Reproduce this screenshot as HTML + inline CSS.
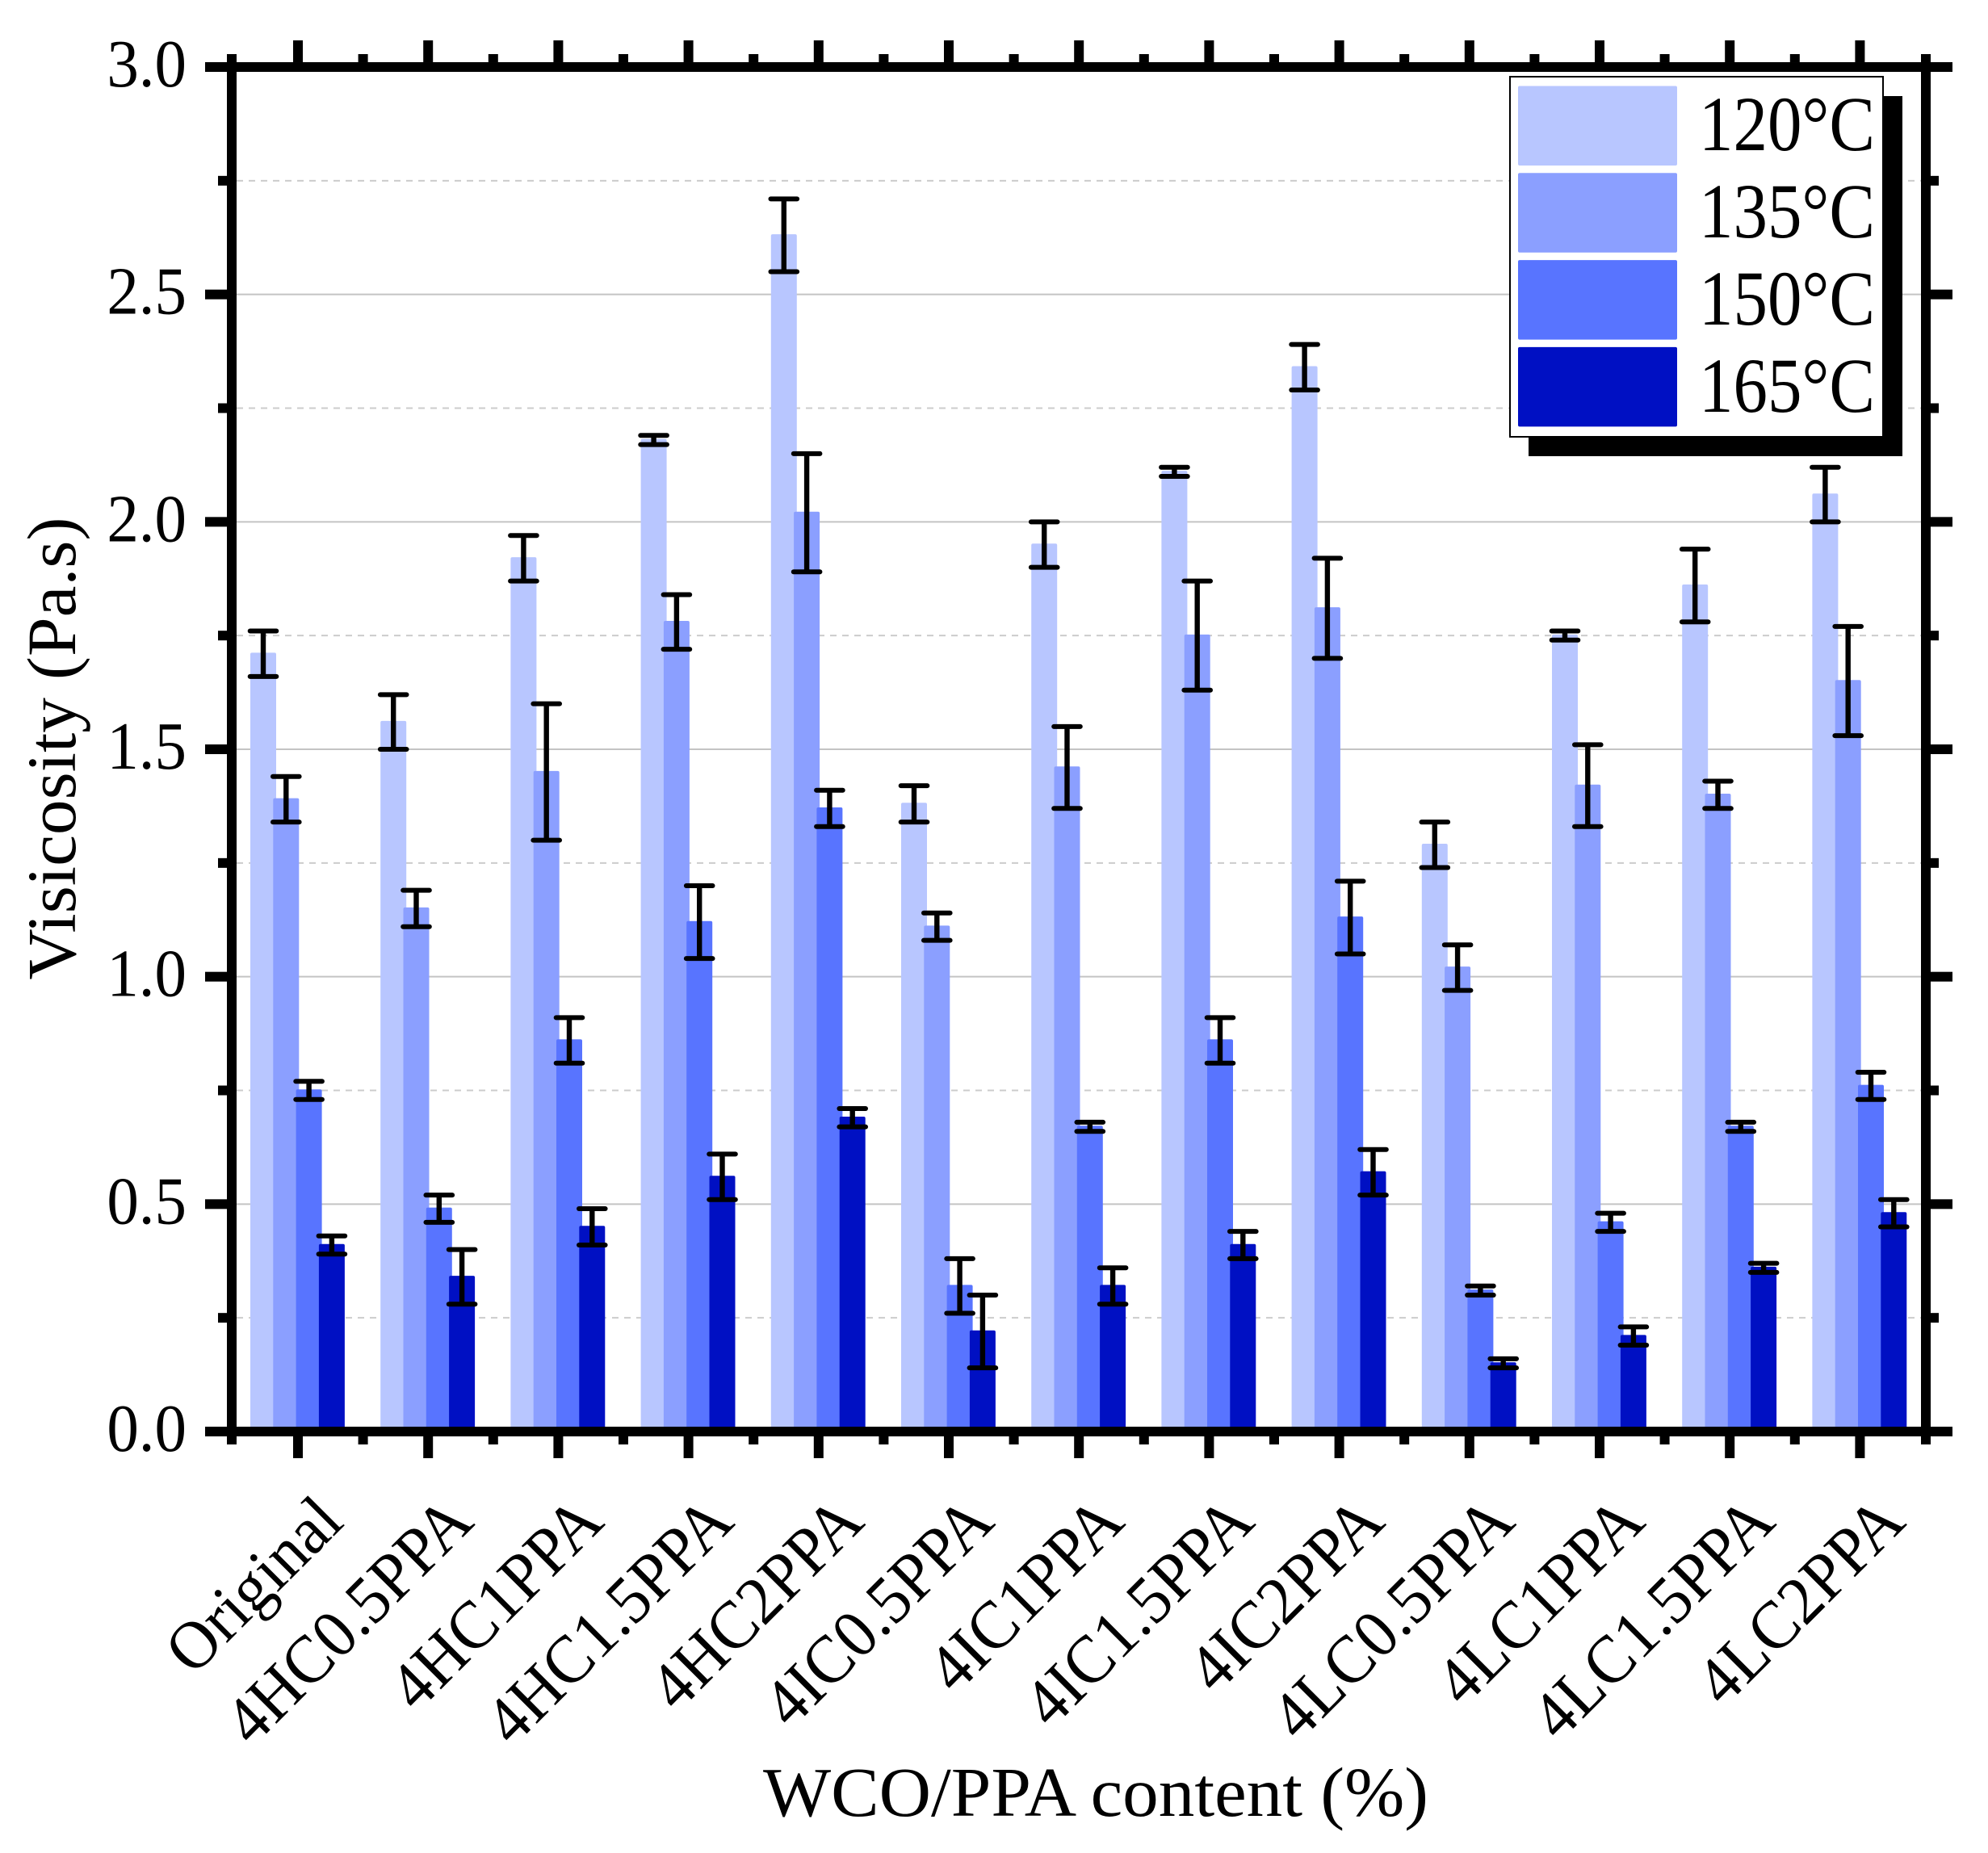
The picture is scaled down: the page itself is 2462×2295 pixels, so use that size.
<!DOCTYPE html>
<html lang="en">
<head>
<meta charset="utf-8">
<title>Viscosity chart</title>
<style>
html,body{margin:0;padding:0;background:#fff;width:2462px;height:2295px;overflow:hidden}
svg{display:block}
text{font-family:"Liberation Serif",serif;fill:#000}
</style>
</head>
<body>
<svg id="chart" xmlns="http://www.w3.org/2000/svg" width="2462" height="2295" viewBox="0 0 2462 2295"></svg>
<script>
const categories = ['Original','4HC0.5PPA','4HC1PPA','4HC1.5PPA','4HC2PPA','4IC0.5PPA','4IC1PPA','4IC1.5PPA','4IC2PPA','4LC0.5PPA','4LC1PPA','4LC1.5PPA','4LC2PPA'];
const seriesNames = ['120°C','135°C','150°C','165°C'];
const seriesColors = ['#b8c6ff','#8b9fff','#5874ff','#0010c3'];
const values120 = [1.71,1.56,1.92,2.18,2.63,1.38,1.95,2.11,2.34,1.29,1.75,1.86,2.06];
const values135 = [1.39,1.15,1.45,1.78,2.02,1.11,1.46,1.75,1.81,1.02,1.42,1.40,1.65];
const values150 = [0.75,0.49,0.86,1.12,1.37,0.32,0.67,0.86,1.13,0.31,0.46,0.67,0.76];
const values165 = [0.41,0.34,0.45,0.56,0.69,0.22,0.32,0.41,0.57,0.15,0.21,0.36,0.48];
const errors120 = [0.05,0.06,0.05,0.01,0.08,0.04,0.05,0.01,0.05,0.05,0.01,0.08,0.06];
const errors135 = [0.05,0.04,0.15,0.06,0.13,0.03,0.09,0.12,0.11,0.05,0.09,0.03,0.12];
const errors150 = [0.02,0.03,0.05,0.08,0.04,0.06,0.01,0.05,0.08,0.01,0.02,0.01,0.03];
const errors165 = [0.02,0.06,0.04,0.05,0.02,0.08,0.04,0.03,0.05,0.01,0.02,0.01,0.03];
const yMajorTicks = ['0.0','0.5','1.0','1.5','2.0','2.5','3.0'];
const yMinorTicks = [0.25,0.75,1.25,1.75,2.25,2.75];
const xAxisTitle = 'WCO/PPA content (%)';
const yAxisTitle = 'Visicosity (Pa.s)';

const allValues = [values120,values135,values150,values165];
const allErrors = [errors120,errors135,errors150,errors165];

const svg = document.getElementById('chart');
const NS = 'http://www.w3.org/2000/svg';

function make(tag, attrs, text){
  const node = document.createElementNS(NS, tag);
  for (const k in attrs) node.setAttribute(k, attrs[k]);
  if (text !== undefined) node.textContent = text;
  svg.appendChild(node);
  return node;
}
function yScale(v){ return 1773 - v * 563.33; }
function xCenter(i){ return 369 + i * 161.2; }
function barLeft(i, s){ return xCenter(i) - 59 + s * 28.3; }
const barWidth = 32;
const barEdge = 1.3;

let e;

// gridlines
yMajorTicks.forEach(function(t){
  const v = parseFloat(t);
  if (v === 0 || v === 3) return;
  e = make('line',{x1:293,x2:2379,y1:yScale(v),y2:yScale(v),stroke:'#c4c4c4','stroke-width':2});
  
  
});
yMinorTicks.forEach(function(v){
  e = make('line',{x1:293,x2:2379,y1:yScale(v),y2:yScale(v),stroke:'#cccccc','stroke-width':2,'stroke-dasharray':'8 7'});
  
  
});

// bars
categories.forEach(function(c,i){
  allValues.forEach(function(vals,s){
    const top = yScale(vals[i]) - barEdge;
    e = make('rect',{x:barLeft(i,s),y:top,width:barWidth,height:yScale(0)-top,rx:2,fill:seriesColors[s]});
    
    
  });
});

// error bars
categories.forEach(function(c,i){
  allValues.forEach(function(vals,s){
    const cx = barLeft(i,s) + barWidth/2;
    const hi = yScale(vals[i] + allErrors[s][i]);
    const lo = yScale(vals[i] - allErrors[s][i]);
    e = make('line',{x1:cx,x2:cx,y1:hi,y2:lo,stroke:'#000','stroke-width':6.4});
    
    
    e = make('line',{x1:cx-16.3,x2:cx+16.3,y1:hi,y2:hi,stroke:'#000','stroke-width':6,'stroke-linecap':'round'});
    
    
    e = make('line',{x1:cx-16.3,x2:cx+16.3,y1:lo,y2:lo,stroke:'#000','stroke-width':6,'stroke-linecap':'round'});
    
    
  });
});

// axes frame
const axTop = yScale(3), axBottom = yScale(0), axLeft = 287, axRight = 2385;
e = make('rect',{x:254,y:axTop-6,width:2164,height:12,fill:'#000'});


e = make('rect',{x:254,y:axBottom-6,width:2164,height:12,fill:'#000'});


e = make('rect',{x:axLeft-6,y:67,width:12,height:1722,fill:'#000'});


e = make('rect',{x:axRight-6,y:67,width:12,height:1722,fill:'#000'});



// x ticks
categories.forEach(function(c,i){
  const x = xCenter(i);
  e = make('rect',{x:x-6,y:axBottom+6,width:12,height:27,fill:'#000'});
  
  
  e = make('rect',{x:x-6,y:axTop-33,width:12,height:27,fill:'#000'});
  
  
  if (i < categories.length - 1){
    const m = x + 161.2/2;
    e = make('rect',{x:m-6,y:axBottom+6,width:12,height:10,fill:'#000'});
    
    
    e = make('rect',{x:m-6,y:axTop-16,width:12,height:10,fill:'#000'});
    
    
  }
  const lx = x + 59, ly = 1888;
  e = make('text',{x:0,y:0,'font-size':84,'text-anchor':'end',transform:'translate('+lx+' '+ly+') rotate(-45) scale(0.955 1)'},c);
  
  
});

// y ticks
yMajorTicks.forEach(function(t){
  const v = parseFloat(t), y = yScale(v);
  e = make('rect',{x:254,y:y-6,width:27,height:12,fill:'#000'});
  
  
  e = make('rect',{x:axRight+6,y:y-6,width:27,height:12,fill:'#000'});
  
  
  e = make('text',{x:0,y:0,'font-size':84,'text-anchor':'end',transform:'translate(231 '+(y+24)+') scale(0.94 1)'},t);
  
  
});
yMinorTicks.forEach(function(v){
  const y = yScale(v);
  e = make('rect',{x:270,y:y-6,width:11,height:12,fill:'#000'});
  
  
  e = make('rect',{x:axRight+6,y:y-6,width:10,height:12,fill:'#000'});
  
  
});

// axis titles
e = make('text',{x:1357,y:2249,'font-size':87,'text-anchor':'middle',textLength:824,lengthAdjust:'spacingAndGlyphs'},xAxisTitle);


e = make('text',{x:0,y:0,'font-size':86,'text-anchor':'middle',textLength:573,lengthAdjust:'spacingAndGlyphs',transform:'translate(93 927) rotate(-90)'},yAxisTitle);



// legend
e = make('rect',{x:1893,y:119,width:463,height:446,fill:'#000'});


e = make('rect',{x:1870,y:95,width:462,height:446,fill:'#fff',stroke:'#000','stroke-width':2});


seriesNames.forEach(function(n,s){
  const sy = 106.5 + s*107.8;
  e = make('rect',{x:1880,y:sy,width:197,height:98.5,rx:2,fill:seriesColors[s]});
  
  
  e = make('text',{x:0,y:0,'font-size':96,transform:'translate(2104 '+(186+s*108)+') scale(0.885 1)'},n);
  
  
});
</script>
</body>
</html>
